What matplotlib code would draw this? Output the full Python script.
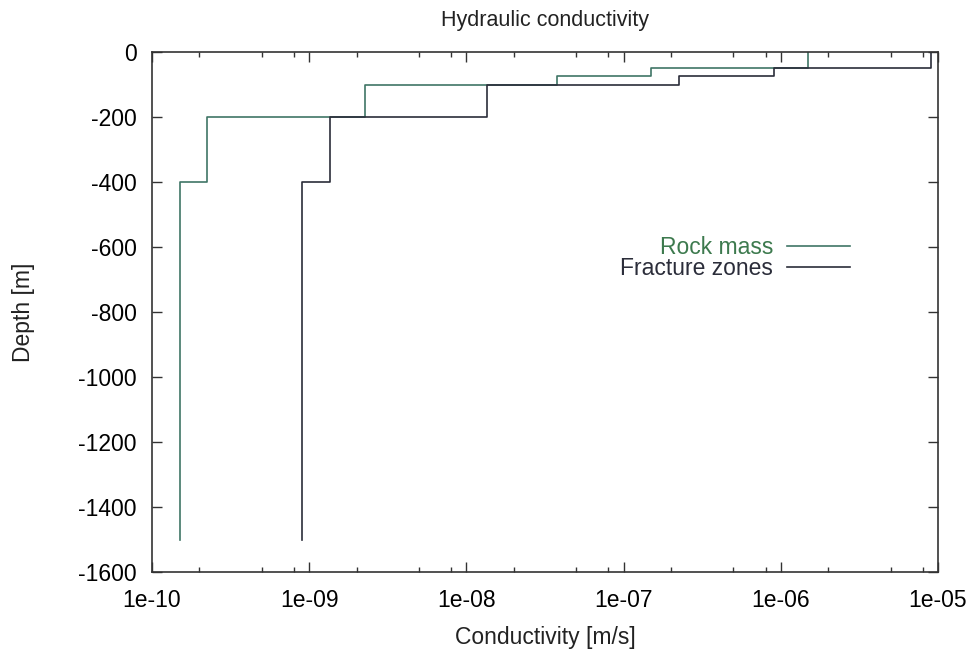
import numpy as np
import matplotlib
matplotlib.use("Agg")
import matplotlib.pyplot as plt
from matplotlib.ticker import LogLocator, FixedLocator, NullFormatter

plt.rcParams['font.family'] = ['Liberation Sans', 'DejaVu Sans']
plt.rcParams['axes.unicode_minus'] = False

# Layer boundaries (depth, m) and conductivity per layer (m/s), deepest first
depth_edges = [-1500, -400, -200, -100, -75, -50, 0]
rock_mass = [1.5e-10, 2.25e-10, 2.25e-9, 3.75e-8, 1.5e-7, 1.5e-6]
fracture_zones = [9e-10, 1.35e-9, 1.35e-8, 2.25e-7, 9e-7, 9e-6]

y_ticks = [0, -200, -400, -600, -800, -1000, -1200, -1400, -1600]
x_ticks = [1e-10, 1e-9, 1e-8, 1e-7, 1e-6, 1e-5]
x_tick_labels = ['1e-10', '1e-09', '1e-08', '1e-07', '1e-06', '1e-05']


def profile(values, edges):
    # vertical segment for each layer, horizontal jump at each boundary
    k = np.repeat(values, 2)
    d = np.column_stack([edges[:-1], edges[1:]]).ravel()
    return k, d


fig = plt.figure(figsize=(9.76, 6.5), dpi=100)
ax = fig.add_axes([152 / 976, 1 - 572 / 650, (938 - 152) / 976, (572 - 52) / 650])

k, d = profile(rock_mass, depth_edges)
ax.plot(k, d, color='#3f7566', lw=1.2, label='Rock mass')
k, d = profile(fracture_zones, depth_edges)
ax.plot(k, d, color='#2b2d3a', lw=1.2, label='Fracture zones')

ax.set_xscale('log')
ax.set_xlim(1e-10, 1e-5)
ax.set_ylim(-1600, 0)
ax.xaxis.set_major_locator(FixedLocator(x_ticks))
ax.set_xticklabels(x_tick_labels)
ax.xaxis.set_minor_locator(LogLocator(base=10, subs=[2, 5, 8]))
ax.xaxis.set_minor_formatter(NullFormatter())
ax.set_yticks(y_ticks)

ax.tick_params(which='both', direction='in', top=True, right=True,
               labelsize=16.5, color='#333333', width=1.0)
ax.tick_params(which='major', length=7)
ax.tick_params(which='minor', length=3.5)
ax.tick_params(axis='x', pad=12)
ax.tick_params(axis='y', pad=11)
for s in ax.spines.values():
    s.set_color('#333333')
    s.set_linewidth(1.2)

ax.set_title('Hydraulic conductivity', fontsize=15.5, color='#222222', pad=19)
ax.set_xlabel('Conductivity [m/s]', fontsize=16.5, color='#222222', labelpad=10)
ax.set_ylabel('Depth [m]', fontsize=16.5, color='#222222', labelpad=31)

leg = ax.legend(loc='center right', bbox_to_anchor=(850 / 976, 1 - 258 / 650),
                bbox_transform=fig.transFigure, frameon=False, markerfirst=False,
                fontsize=16.5, handlelength=2.75, handletextpad=0.6,
                labelspacing=-0.05, borderpad=0, borderaxespad=0)
leg.get_texts()[0].set_color('#3d7a4e')
leg.get_texts()[1].set_color('#2b2d3a')

fig.savefig('out.png', dpi=100)
